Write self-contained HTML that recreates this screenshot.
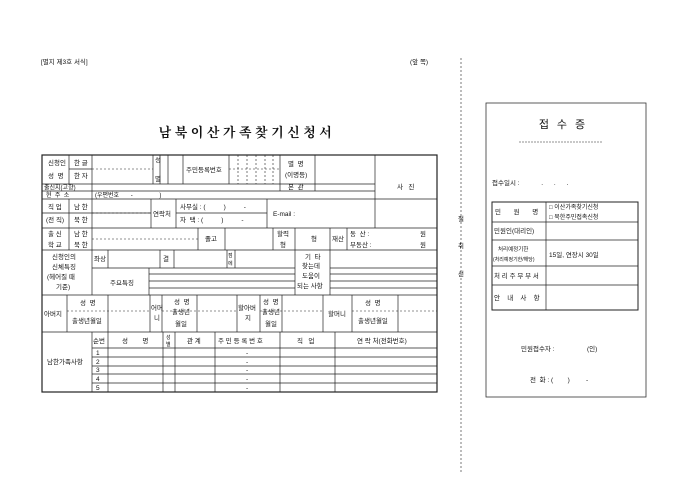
<!DOCTYPE html>
<html><head><meta charset="utf-8"><style>
html,body{margin:0;padding:0;background:#fff;}
svg{display:block;}
text{font-family:"Liberation Sans","Noto Sans CJK KR",sans-serif;font-size:6.5px;fill:#111;white-space:pre;}
.t{font-family:"Liberation Serif","Noto Serif CJK SC","NanumGothic",serif;font-size:13px;font-weight:bold;letter-spacing:3.5px;}
line{stroke:#222;stroke-width:0.7;}
.d{stroke-dasharray:2,2;stroke-width:0.6;}
</style></head><body>
<svg width="680" height="481" viewBox="0 0 680 481" xmlns="http://www.w3.org/2000/svg" xml:space="preserve">
<text x="41" y="64">[별지 제3호 서식]</text>
<text x="410" y="64">(앞 쪽)</text>
<text class="t" x="247" y="137" text-anchor="middle">남북이산가족찾기신청서</text>
<line x1="461" y1="58" x2="461" y2="472" class="d"/>
<text x="458" y="221">절</text><text x="458" y="248">취</text><text x="458" y="276">선</text>

<rect x="42" y="155" width="395" height="237" fill="none" stroke="#222" stroke-width="1.2"/>
<line x1="42" y1="184" x2="375" y2="184"/>
<line x1="42" y1="191" x2="375" y2="191"/>
<line x1="42" y1="199" x2="437" y2="199"/>
<line x1="42" y1="228" x2="437" y2="228"/>
<line x1="42" y1="250" x2="437" y2="250"/>
<line x1="42" y1="295" x2="437" y2="295"/>
<line x1="42" y1="332" x2="437" y2="332"/>
<line x1="69" y1="155" x2="69" y2="184"/>
<line x1="69" y1="169" x2="92" y2="169"/>
<line x1="92" y1="155" x2="92" y2="184"/>
<line x1="92" y1="169" x2="153" y2="169" class="d"/>
<line x1="153" y1="155" x2="153" y2="184"/>
<line x1="160" y1="155" x2="160" y2="184"/>
<line x1="168" y1="155" x2="168" y2="184"/>
<line x1="183" y1="155" x2="183" y2="184"/>
<line x1="229" y1="155" x2="229" y2="184"/>
<line x1="229" y1="169" x2="280" y2="169" class="d"/>
<line x1="238" y1="155" x2="238" y2="184" class="d"/><line x1="247" y1="155" x2="247" y2="184" class="d"/>
<line x1="256" y1="155" x2="256" y2="184" class="d"/><line x1="265" y1="155" x2="265" y2="184" class="d"/>
<line x1="273" y1="155" x2="273" y2="184" class="d"/>
<line x1="280" y1="155" x2="280" y2="191"/>
<line x1="315" y1="155" x2="315" y2="191"/>
<line x1="375" y1="155" x2="375" y2="228"/>
<text x="48" y="165">신청인</text><text x="48" y="178">성  명</text>
<text x="74" y="165">한 글</text><text x="74" y="178">한 자</text>
<text x="155" y="162">성</text><text x="155" y="181">별</text>
<text x="186" y="172">주민등록번호</text>
<text x="288" y="166">별  명</text><text x="285" y="177">(이명등)</text>
<text x="288" y="189">본  관</text>
<text x="397" y="189">사   진</text>
<line x1="92" y1="184" x2="92" y2="199"/>
<text x="44" y="189.5" style="font-size:6px">출신지(고향)</text>
<text x="46" y="197" style="font-size:6px">현  주  소</text>
<text x="95" y="197" style="font-size:6px">(우편번호       -                )</text>
<line x1="42" y1="213" x2="151" y2="213"/>
<line x1="176" y1="213" x2="267" y2="213"/>
<line x1="69" y1="199" x2="69" y2="228"/>
<line x1="92" y1="199" x2="92" y2="228"/>
<line x1="151" y1="199" x2="151" y2="228"/>
<line x1="176" y1="199" x2="176" y2="228"/>
<line x1="267" y1="199" x2="267" y2="228"/>
<line x1="92" y1="213" x2="151" y2="213" class="d"/>
<text x="48" y="209">직 업</text><text x="46" y="222">(전 직)</text>
<text x="74" y="209">남 한</text><text x="74" y="222">북 한</text>
<text x="153" y="216">연락처</text>
<text x="180" y="209">사무실 : (          )          -</text>
<text x="180" y="222">자  택 : (          )          -</text>
<text x="273" y="216">E-mail :</text>
<line x1="69" y1="228" x2="69" y2="250"/>
<line x1="92" y1="228" x2="92" y2="250"/>
<line x1="92" y1="239" x2="198" y2="239" class="d"/>
<line x1="198" y1="228" x2="198" y2="250"/>
<line x1="225" y1="228" x2="225" y2="250"/>
<line x1="273" y1="228" x2="273" y2="250"/>
<line x1="295" y1="228" x2="295" y2="250"/>
<line x1="330" y1="228" x2="330" y2="250"/>
<line x1="347" y1="228" x2="347" y2="250"/>
<text x="48" y="236">출 신</text><text x="48" y="247">학 교</text>
<text x="74" y="236">남 한</text><text x="74" y="247">북 한</text>
<text x="205" y="241">졸고</text>
<text x="277" y="236">할력</text><text x="280" y="247">형</text>
<text x="311" y="241">형</text>
<text x="332" y="241">재산</text>
<text x="350" y="236">동  산 :</text><text x="420" y="236">원</text>
<text x="350" y="247">부동산 :</text><text x="420" y="247">원</text>
<line x1="92" y1="250" x2="92" y2="295"/>
<line x1="108" y1="250" x2="108" y2="268"/>
<line x1="160" y1="250" x2="160" y2="268"/>
<line x1="174" y1="250" x2="174" y2="268"/>
<line x1="227" y1="250" x2="227" y2="268"/>
<line x1="235" y1="250" x2="235" y2="268"/>
<line x1="92" y1="268" x2="295" y2="268"/>
<line x1="149" y1="268" x2="149" y2="295"/>
<line x1="149" y1="274" x2="295" y2="274"/><line x1="149" y1="281" x2="295" y2="281"/><line x1="149" y1="288" x2="295" y2="288"/>
<line x1="295" y1="250" x2="295" y2="295"/>
<line x1="330" y1="250" x2="330" y2="295"/>
<line x1="330" y1="268" x2="437" y2="268"/><line x1="330" y1="274" x2="437" y2="274"/><line x1="330" y1="281" x2="437" y2="281"/><line x1="330" y1="288" x2="437" y2="288"/>
<text x="52" y="259">신청인의</text><text x="52" y="269">신체특징</text><text x="47" y="279">(헤어질 때</text><text x="56" y="289">기준)</text>
<text x="94" y="261">좌상</text><text x="163" y="261">결</text>
<text x="228" y="257" style="font-size:5px">점</text><text x="228" y="265" style="font-size:5px">에</text>
<text x="110" y="285">주요특징</text>
<text x="305" y="259">기  타</text><text x="302" y="268">찾는데</text><text x="302" y="278">도움이</text><text x="297" y="288">되는 사항</text>
<line x1="67" y1="295" x2="67" y2="332"/>
<line x1="108" y1="295" x2="108" y2="332"/>
<line x1="150" y1="295" x2="150" y2="332"/>
<line x1="162" y1="295" x2="162" y2="332"/>
<line x1="197" y1="295" x2="197" y2="332"/>
<line x1="237" y1="295" x2="237" y2="332"/>
<line x1="260" y1="295" x2="260" y2="332"/>
<line x1="282" y1="295" x2="282" y2="332"/>
<line x1="323" y1="295" x2="323" y2="332"/>
<line x1="352" y1="295" x2="352" y2="332"/>
<line x1="398" y1="295" x2="398" y2="332"/>
<line x1="67" y1="311" x2="150" y2="311" class="d"/>
<line x1="162" y1="311" x2="237" y2="311" class="d"/>
<line x1="260" y1="311" x2="323" y2="311" class="d"/>
<line x1="352" y1="311" x2="437" y2="311" class="d"/>
<text x="44" y="316">아버지</text>
<text x="80" y="305">성  명</text><text x="72" y="323">출생년월일</text>
<text x="151" y="310">어머</text><text x="154" y="320">니</text>
<text x="174" y="304">성  명</text><text x="172" y="314">출생년</text><text x="175" y="326">월일</text>
<text x="238" y="310">할아버</text><text x="245" y="320">지</text>
<text x="263" y="304">성  명</text><text x="262" y="314">출생년</text><text x="265" y="326">월일</text>
<text x="328" y="316">할머니</text>
<text x="365" y="305">성  명</text><text x="358" y="323">출생년월일</text>
<line x1="92" y1="332" x2="92" y2="392"/>
<line x1="108" y1="332" x2="108" y2="392"/>
<line x1="163" y1="332" x2="163" y2="392"/>
<line x1="175" y1="332" x2="175" y2="392"/>
<line x1="215" y1="332" x2="215" y2="392"/>
<line x1="280" y1="332" x2="280" y2="392"/>
<line x1="335" y1="332" x2="335" y2="392"/>
<line x1="92" y1="348" x2="437" y2="348"/>
<line x1="92" y1="357" x2="437" y2="357"/>
<line x1="92" y1="366" x2="437" y2="366"/>
<line x1="92" y1="374" x2="437" y2="374"/>
<line x1="92" y1="383" x2="437" y2="383"/>
<text x="47" y="364">남한가족사항</text>
<text x="93" y="343">순번</text><text x="122" y="343">성        명</text>
<text x="166" y="339" style="font-size:5px">성</text><text x="166" y="346" style="font-size:5px">별</text>
<text x="187" y="343">관 계</text><text x="218" y="343">주 민 등 록 번 호</text>
<text x="297" y="343">직   업</text><text x="357" y="343">연 락 처(전화번호)</text>
<text x="96" y="355">1</text><text x="96" y="364">2</text><text x="96" y="372">3</text><text x="96" y="381">4</text><text x="96" y="390">5</text>
<text x="246" y="355">-</text><text x="246" y="364">-</text><text x="246" y="372">-</text><text x="246" y="381">-</text><text x="246" y="390">-</text>

<rect x="486" y="103" width="160" height="294" fill="none" stroke="#333" stroke-width="0.8"/>
<text x="566" y="128" text-anchor="middle" style="font-size:11px;letter-spacing:8px">접수증</text>
<line x1="519" y1="142" x2="603" y2="142" class="d" style="stroke-dasharray:2,1"/>
<text x="492" y="185">접수일시 :            .      .      .</text>
<rect x="492" y="202" width="146" height="108" fill="none" stroke="#222" stroke-width="1"/>
<line x1="546" y1="202" x2="546" y2="310"/>
<line x1="492" y1="222" x2="638" y2="222"/>
<line x1="492" y1="240" x2="638" y2="240"/>
<line x1="492" y1="266" x2="638" y2="266"/>
<line x1="492" y1="285" x2="638" y2="285"/>
<text x="495" y="214">민       원       명</text>
<text x="549" y="209" style="font-size:6px">□ 이산가족찾기신청</text>
<text x="549" y="219" style="font-size:6px">□ 북한주민접촉신청</text>
<text x="494" y="233">민원인(대리인)</text>
<text x="498" y="251" style="font-size:5.5px">처리예정기한</text>
<text x="493" y="261" style="font-size:5px">(처리예정기한/해당)</text>
<text x="549" y="257">15일, 연장시 30일</text>
<text x="494" y="278">처 리 주 무 부 서</text>
<text x="494" y="300">안    내    사    항</text>
<text x="521" y="351">민원접수자 :                  (인)</text>
<text x="530" y="382">전  화 : (        )         -</text>
</svg>
</body></html>
